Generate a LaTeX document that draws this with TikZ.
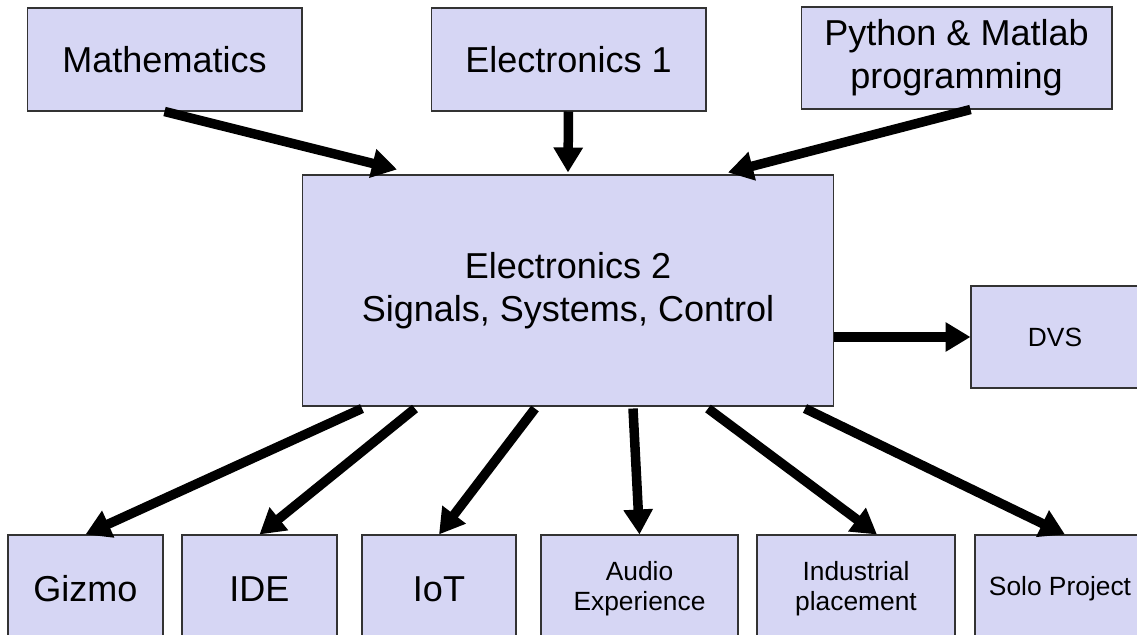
\documentclass[tikz,border=0pt]{standalone}
\usepackage{fontspec}
\setmainfont{Liberation Sans}
\usepackage{tikz}
\usetikzlibrary{calc,arrows.meta}
\definecolor{boxfill}{RGB}{214,214,244}
\definecolor{boxline}{RGB}{51,51,51}

\begin{document}
\begin{tikzpicture}[x=0.02cm, y=-0.02cm,
		course/.style={draw=boxline, line width=0.6pt, fill=boxfill, inner sep=0pt, align=center, minimum height=2.06cm},
		big/.style={font={\fontsize{20.5}{24.5}\selectfont}},
		small/.style={font={\fontsize{15}{17}\selectfont}},
		link/.style={line width=0.19cm, -{Triangle[length=0.5cm, width=0.56cm]}}]
			%%%%% START %%%%%
			
			\clip (0, 0) rectangle (1137, 635);
			
			\node[course, big, minimum width=5.5cm] (math) at (164.5, 59.5) {Mathematics};
			\node[course, big, minimum width=5.5cm] (elec1) at (568.5, 59.5) {Electronics 1};
			\node[course, big, minimum width=6.22cm, minimum height=2.04cm] (python) at (956.5, 58) {Python \& Matlab\\programming};
			
			\node[course, big, minimum width=10.64cm, minimum height=4.62cm] (main) at (568, 290.5) {Electronics 2\\Signals, Systems, Control};
			\node[course, small, minimum width=3.36cm, minimum height=2.04cm] (dvs) at (1055, 337) {DVS};
			
			% bottom row runs off the page
			\node[course, big, minimum width=3.1cm, minimum height=2.16cm] (gizmo) at (85.5, 589) {Gizmo};
			\node[course, big, minimum width=3.1cm, minimum height=2.16cm] (ide) at (259.5, 589) {IDE};
			\node[course, big, minimum width=3.08cm, minimum height=2.16cm] (iot) at (439, 589) {IoT};
			\node[course, small, minimum width=3.94cm, minimum height=2.16cm] (audio) at (639.5, 589) {Audio\\Experience};
			\node[course, small, minimum width=3.96cm, minimum height=2.16cm] (industrial) at (856, 589) {Industrial\\placement};
			\node[course, small, minimum width=3.4cm, minimum height=2.16cm] (solo) at (1060, 589) {Solo Project};
			
			% into the main course
			\draw[link] (math.south) -- ($(main.north)+(-171, -5)$);
			\draw[link] (elec1.south) -- ($(main.north)+(0, -2)$);
			\draw[link] ($(python.south)+(14, 0)$) -- ($(main.north)+(160, -2)$);
			
			% out of it
			\draw[link] (main.east |- dvs.west) -- (dvs.west);
			\draw[link] ($(main.south)+(-206, 2)$) -- (gizmo.north);
			\draw[link] ($(main.south)+(-153, 2)$) -- (ide.north);
			\draw[link] ($(main.south)+(-33, 2)$) -- (iot.north);
			\draw[link] ($(main.south)+(65, 2)$) -- (audio.north);
			\draw[link] ($(main.south)+(140, 2)$) -- ($(industrial.north)+(21, 0)$);
			\draw[link] ($(main.south)+(237, 2)$) -- ($(solo.north)+(5, 0)$);
			
			%%%%% END %%%%%
		\end{tikzpicture}
\end{document}
